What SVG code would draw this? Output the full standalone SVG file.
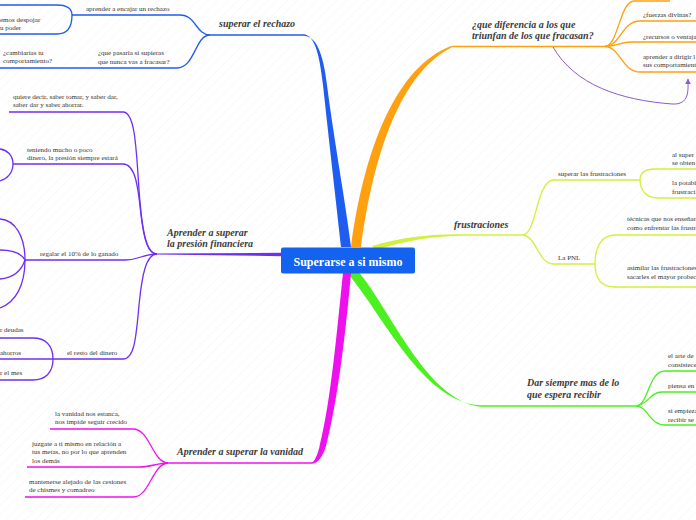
<svg xmlns="http://www.w3.org/2000/svg" width="696" height="520" viewBox="0 0 696 520">
<defs>
<pattern id="bg" width="7" height="7" patternUnits="userSpaceOnUse" patternTransform="rotate(45)"><line x1="0" y1="0" x2="0" y2="7" stroke="#f3f3f3" stroke-width="1"/></pattern>
<marker id="arr" viewBox="0 0 10 10" refX="9" refY="5" markerWidth="6" markerHeight="6" orient="auto" markerUnits="userSpaceOnUse"><path d="M0,0 L10,5 L0,10 Z" fill="#8c5cc8"/></marker>
</defs>
<style>
.leaf{font-family:"Liberation Serif",serif;font-size:7px;fill:#333}
.title{font-family:"Liberation Serif",serif;font-size:10px;font-weight:bold;font-style:italic;fill:#3a3a3a}
.ctr{font-family:"Liberation Serif",serif;font-size:12px;font-weight:bold;fill:#fff}
.c{fill:none;stroke-width:1.3}
.b{stroke:#1f5cf0}.p{stroke:#6f2ff2}.o{stroke:#ffa010}.y{stroke:#d2f03c}.g{stroke:#4cf020}.m{stroke:#ee11ee}
</style>
<rect width="696" height="520" fill="#fff"/>
<rect width="696" height="520" fill="url(#bg)"/>
<g id="connectors">
<!-- trunks -->
<path d="M303,34.3 C316,34.3 320,60 323,85 C330,150 337,210 341,247 L351,247 C346,205 334,140 327,85 C323,52 316,35.8 303,35.8 Z" fill="#1f5cf0"/>
<path d="M351,247 C364,150 396,66 452,45.8 L452,47.2 C402,72 374,150 361,247 Z" fill="#ffa010"/>
<path d="M372,246 C400,238 425,234 462,234.3 L462,235.7 C425,236.5 402,242 376,250 Z" fill="#d2f03c"/>
<path d="M348,274 C382,313 422,402 480,405.3 L480,406.7 C426,400 390,308 357,270 Z" fill="#4cf020"/>
<path d="M343,273 C337,330 331,400 320,444 C318,455 314,462.3 312,462.3 L312,463.7 C318,463.7 323,456 326,446 C338,400 346,330 351,273 Z" fill="#ee11ee"/>
<path d="M157,253.5 L282,252.8 L282,256.2 L157,254.5 Z" fill="#6f2ff2"/>
<!-- blue -->
<path class="c b" d="M210,35 L303,35"/>
<path class="c b" d="M210,35 C196,35 196,15 180,15 L72,15"/>
<path class="c b" d="M210,35 C195,35 195,68 177,68 L0,68"/>
<path class="c b" d="M72,15 C72,8 66,5 57,5 L0,5"/>
<path class="c b" d="M72,15 C72,26 68,34 57,34 L0,34"/>
<!-- purple -->
<path class="c p" d="M157,254 C146,254 142,230 139,190 C136,140 134,112 123,112 L9,112"/>
<path class="c p" d="M157,254 C148,254 144,240 141,215 C138,185 135,164 123,164 L13,164"/>
<path class="c p" d="M157,254 C142,254 140,260 125,260 L25,260"/>
<path class="c p" d="M157,254 C146,254 142,275 139,305 C136,340 134,359 123,359 L53,359"/>
<path class="c p" d="M13,164 C13,155 7,150 0,149"/>
<path class="c p" d="M13,164 C13,173 7,179 0,181"/>
<path class="c p" d="M25,260 C25,236 15,220 0,219"/>
<path class="c p" d="M25,260 C21,253 12,250 0,250"/>
<path class="c p" d="M25,260 C21,272 12,278 0,279"/>
<path class="c p" d="M25,260 C25,285 16,302 0,308"/>
<path class="c p" d="M53,359 C53,345 45,338 33,338 L0,338"/>
<path class="c p" d="M53,359 L0,359"/>
<path class="c p" d="M53,359 C53,373 45,380 33,380 L0,380"/>
<!-- orange -->
<path class="c o" d="M452,46.5 L605,46.5"/>
<path class="c o" d="M605,46.5 C618,46.5 620,1 634,1 L670,1"/>
<path class="c o" d="M605,46.5 C620,46.5 622,21 640,21 L696,21"/>
<path class="c o" d="M605,46.5 C616,46.5 620,42 632,42 L696,42"/>
<path class="c o" d="M605,46.5 C620,46.5 622,72 640,72 L696,72"/>
<path d="M553,47 C575,85 620,100 672,104 C690,105 688,90 688,79" fill="none" stroke="#8c5cc8" stroke-width="1" marker-end="url(#arr)"/>
<!-- yellow-green -->
<path class="c y" d="M462,235 L523,235"/>
<path class="c y" d="M523,235 C537,233 536,182 553,180 L640,180"/>
<path class="c y" d="M523,235 C537,237 538,263 553,264 L595,264"/>
<path class="c y" d="M640,180 C640,173 645,169 655,169 L696,169"/>
<path class="c y" d="M640,180 C640,190 646,198 658,198 L696,198"/>
<path class="c y" d="M595,264 C595,245 603,235 615,235 L696,235"/>
<path class="c y" d="M595,264 C595,280 602,287 615,287 L696,287"/>
<!-- green -->
<path class="c g" d="M480,406 L636,406"/>
<path class="c g" d="M636,406 C649,405 648,371 665,371 L696,371"/>
<path class="c g" d="M636,406 C648,405 650,392 662,392 L696,392"/>
<path class="c g" d="M636,406 C649,407 649,425 665,425 L696,425"/>
<!-- magenta -->
<path class="c m" d="M312,463 L168,463"/>
<path class="c m" d="M168,463 C152,462 150,429 133,429 L50,429"/>
<path class="c m" d="M168,463 C158,463 150,467 140,467 L27,467"/>
<path class="c m" d="M168,463 C152,464 150,497 133,497 L25,497"/>
</g>
<g id="center"><rect x="281" y="247.5" width="134" height="26" rx="2" fill="#1462f0"/><text class="ctr" x="348" y="265.5" text-anchor="middle">Superarse a si mismo</text></g>
<g id="n-rechazo"><text class="title" x="219" y="27">superar el rechazo</text></g>
<g id="n-encajar"><text class="leaf" x="86" y="10.5">aprender a encajar un rechazo</text></g>
<g id="n-despojar"><text class="leaf" x="0" y="21.5">emos despojar</text><text class="leaf" x="0" y="29.5">u poder</text></g>
<g id="n-pasaria"><text class="leaf" x="98" y="55">¿que pasaria si supieras</text><text class="leaf" x="98" y="63.5">que nunca vas a fracasar?</text></g>
<g id="n-cambiarias"><text class="leaf" x="3" y="54.5">¿cambiarias tu</text><text class="leaf" x="3" y="63">comportamiento?</text></g>
<g id="n-financiera"><text class="title" x="167" y="236">Aprender a superar</text><text class="title" x="167" y="247">la presión financiera</text></g>
<g id="n-quiere"><text class="leaf" x="13" y="99">quiere decir, saber tomar, y saber dar,</text><text class="leaf" x="13" y="107">saber dar y saber ahorrar.</text></g>
<g id="n-teniendo"><text class="leaf" x="27" y="151.5">teniendo mucho o poco</text><text class="leaf" x="27" y="159.5">dinero, la presión siempre estará</text></g>
<g id="n-regalar"><text class="leaf" x="40" y="255.5">regalar el 10% de lo ganado</text></g>
<g id="n-resto"><text class="leaf" x="67" y="354.5">el resto del dinero</text></g>
<g id="n-deudas"><text class="leaf" x="0" y="331.5">r deudas</text></g>
<g id="n-ahorros"><text class="leaf" x="0" y="354.5">ahorros</text></g>
<g id="n-mes"><text class="leaf" x="0" y="375">r el mes</text></g>
<g id="n-diferencia"><text class="title" x="472" y="27.5">¿que diferencia a los que</text><text class="title" x="472" y="38.5">triunfan de los que fracasan?</text></g>
<g id="n-fuerzas"><text class="leaf" x="643" y="16.5">¿fuerzas divinas?</text></g>
<g id="n-recursos"><text class="leaf" x="643" y="38.5">¿recursos o ventaja</text></g>
<g id="n-dirigir"><text class="leaf" x="643" y="58.5">aprender a dirigir l</text><text class="leaf" x="643" y="67">sus comportamient</text></g>
<g id="n-frustraciones"><text class="title" x="454" y="228">frustraciones</text></g>
<g id="n-superarfr"><text class="leaf" x="558" y="175.5">superar las frustraciones</text></g>
<g id="n-pnl"><text class="leaf" x="558" y="260">La PNL</text></g>
<g id="n-alsuper"><text class="leaf" x="672" y="156.5">al super</text><text class="leaf" x="672" y="164.5">se obten</text></g>
<g id="n-potabi"><text class="leaf" x="672" y="185">la potabi</text><text class="leaf" x="672" y="193.5">frustraci</text></g>
<g id="n-tecnicas"><text class="leaf" x="627" y="221">técnicas que nos enseñar</text><text class="leaf" x="627" y="229.5">como enfrentar las frustr</text></g>
<g id="n-asimilar"><text class="leaf" x="627" y="270">asimilar las frustraciones</text><text class="leaf" x="627" y="278.5">sacarles el mayor probec</text></g>
<g id="n-dar"><text class="title" x="527" y="386">Dar siempre mas de lo</text><text class="title" x="527" y="398">que espera recibir</text></g>
<g id="n-arte"><text class="leaf" x="668" y="358">el arte de</text><text class="leaf" x="668" y="366.5">consistece</text></g>
<g id="n-piensa"><text class="leaf" x="668" y="387.5">piensa en</text></g>
<g id="n-empieza"><text class="leaf" x="668" y="413">si empieza</text><text class="leaf" x="668" y="421.5">recibir se</text></g>
<g id="n-vanidad"><text class="title" x="177" y="455">Aprender a superar la vanidad</text></g>
<g id="n-estanca"><text class="leaf" x="55" y="415.5">la vanidad nos estanca,</text><text class="leaf" x="55" y="424">nos impide seguir crecido</text></g>
<g id="n-juzgate"><text class="leaf" x="32" y="445.5">juzgate a ti mismo en relación a</text><text class="leaf" x="32" y="454">tus metas, no por lo que aprenden</text><text class="leaf" x="32" y="462.5">los demás</text></g>
<g id="n-mantenerse"><text class="leaf" x="29" y="483.5">mantenerse alejado de las cesiones</text><text class="leaf" x="29" y="492">de chismes y comadreo</text></g>
</svg>
